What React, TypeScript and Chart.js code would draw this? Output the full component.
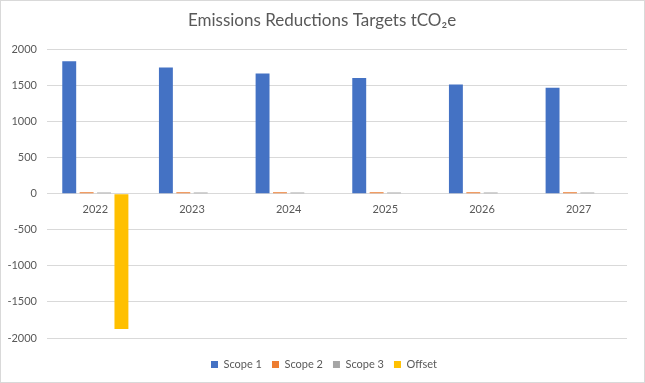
import React, { useEffect, useRef } from "react";
import { Chart, registerables } from "chart.js";
Chart.register(...registerables);

const categories = ["2022", "2023", "2024", "2025", "2026", "2027"];
const scope1 = [1835, 1750, 1667, 1605, 1515, 1470];
const scope2 = [20, 20, 20, 20, 20, 20];
const scope3 = [18, 18, 18, 18, 18, 18];
const offset = [-1875, 0, 0, 0, 0, 0];

const shiftPlugin = {
  id: "shiftBlocks",
  afterLayout(chart: any) {
    const l = chart.legend;
    if (l) {
      l.top += 11;
      l.bottom += 11;
      l.left += 10;
      l.right += 10;
    }
    const t = chart.titleBlock;
    if (t) {
      t.left += 8;
      t.right += 8;
    }
  },
};

export default function App() {
  const ref = useRef<HTMLCanvasElement>(null);
  useEffect(() => {
    const font = "Lato, 'Open Sans', sans-serif";
    const chart = new Chart(ref.current!, {
      type: "bar",
      data: {
        labels: categories,
        datasets: [
          { label: "Scope 1", data: scope1, backgroundColor: "#4472C4" },
          { label: "Scope 2", data: scope2, backgroundColor: "#ED7D31" },
          { label: "Scope 3", data: scope3, backgroundColor: "#A5A5A5" },
          { label: "Offset", data: offset, backgroundColor: "#FFC000" },
        ],
      },
      plugins: [shiftPlugin],
      options: {
        animation: false,
        responsive: false,
        maintainAspectRatio: false,
        layout: { padding: { left: 0, right: 17, top: 0, bottom: 13 } },
        datasets: { bar: { categoryPercentage: 0.72, barPercentage: 0.8 } } as any,
        plugins: {
          title: {
            display: true,
            text: "Emissions Reductions Targets tCO₂e",
            color: "#595959",
            font: { family: font, size: 17, weight: "normal" },
            padding: { top: 9, bottom: 19 },
          },
          legend: {
            position: "bottom",
            labels: {
              boxWidth: 7,
              boxHeight: 7,
              color: "#595959",
              font: { family: font, size: 11 },
              padding: 10,
            },
          },
          tooltip: { enabled: false },
        },
        scales: {
          x: {
            position: { y: 0 } as any,
            grid: { display: false },
            border: { display: true, color: "#d9d9d9" },
            ticks: { color: "#595959", font: { family: font, size: 11 }, padding: 1 },
          },
          y: {
            min: -2000,
            max: 2000,
            afterFit: (s: any) => {
              s.width = 46;
            },
            ticks: {
              stepSize: 500,
              color: "#595959",
              font: { family: font, size: 11 },
              padding: 10,
              callback: (v: any) => String(v),
            },
            grid: { color: "#d9d9d9", drawTicks: false },
            border: { display: false },
          },
        },
      },
    });
    return () => chart.destroy();
  }, []);
  return (
    <div
      style={{
        position: "fixed",
        left: 0,
        top: 0,
        width: 645,
        height: 383,
        background: "#fff",
        boxSizing: "border-box",
        border: "1px solid #d9d9d9",
      }}
    >
      <canvas ref={ref} width={643} height={381} style={{ display: "block" }} />
    </div>
  );
}
